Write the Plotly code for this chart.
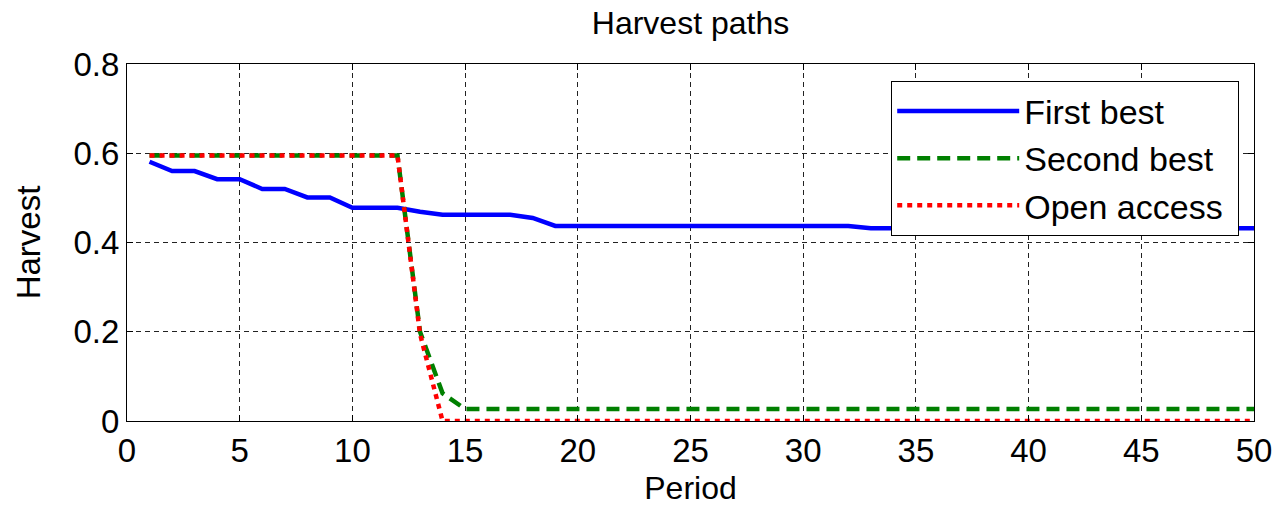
import plotly.graph_objects as go

periods = list(range(1, 51))

first_best = [0.581, 0.560, 0.560, 0.542, 0.542, 0.520, 0.520, 0.501, 0.501, 0.478,
              0.478, 0.478, 0.469, 0.462, 0.462, 0.462, 0.462, 0.455, 0.437, 0.437,
              0.437, 0.437, 0.437, 0.437, 0.437, 0.437, 0.437, 0.437, 0.437, 0.437,
              0.437, 0.437] + [0.432] * 18

second_best = [0.595] * 12 + [0.200, 0.062] + [0.027] * 36

open_access = [0.595] * 12 + [0.195] + [0.0] * 37

x_ticks = list(range(0, 51, 5))
y_ticks = [0, 0.2, 0.4, 0.6, 0.8]
y_tick_text = ["0", "0.2", "0.4", "0.6", "0.8"]

FONT = "Liberation Sans, Arial, sans-serif"
PAD = "\u00a0"

fig = go.Figure()
fig.add_trace(go.Scatter(x=periods, y=first_best, mode="lines", name="First best" + PAD,
                         line=dict(color="#0000ff", width=4.5), cliponaxis=False))
fig.add_trace(go.Scatter(x=periods, y=second_best, mode="lines", name="Second best" + PAD,
                         line=dict(color="#008000", width=4.5, dash="13px,7px"), cliponaxis=False))
fig.add_trace(go.Scatter(x=periods, y=open_access, mode="lines", name="Open access" + PAD,
                         line=dict(color="#ff0000", width=4.5, dash="5px,5px"), cliponaxis=False))

axis_common = dict(
    showline=True, linecolor="black", linewidth=1.2, mirror="ticks",
    ticks="inside", ticklen=6, tickcolor="black",
    showgrid=True, gridcolor="#222", gridwidth=1, griddash="5px,4px",
    zeroline=False, automargin=False,
    tickfont=dict(family=FONT, size=33, color="black"),
)

fig.update_layout(
    width=1283, height=508,
    margin=dict(l=127, r=29, t=64, b=87),
    paper_bgcolor="white", plot_bgcolor="white",
    title=dict(text="Harvest paths", xref="paper", x=0.5, xanchor="center",
               yref="container", y=1 - 23 / 508, yanchor="middle",
               font=dict(family=FONT, size=32, color="black")),
    xaxis=dict(range=[0, 50], tickvals=x_ticks,
               title=dict(text="Period", font=dict(family=FONT, size=32, color="black"), standoff=8),
               **axis_common),
    yaxis=dict(range=[0, 0.8], tickvals=y_ticks, ticktext=y_tick_text,
               title=dict(text="Harvest", font=dict(family=FONT, size=33, color="black"), standoff=22),
               **axis_common),
    legend=dict(x=0.9867, y=0.952, xanchor="right", yanchor="top",
                bgcolor="white", bordercolor="black", borderwidth=1.2,
                font=dict(family=FONT, size=34, color="black"),
                itemwidth=122, tracegroupgap=0),
    showlegend=True,
)

# remove the default 8px page margin so the figure sits at the window's top-left corner
fig.write_html("out.html", config={"displayModeBar": False},
               post_script="document.body.style.margin='0px';")
